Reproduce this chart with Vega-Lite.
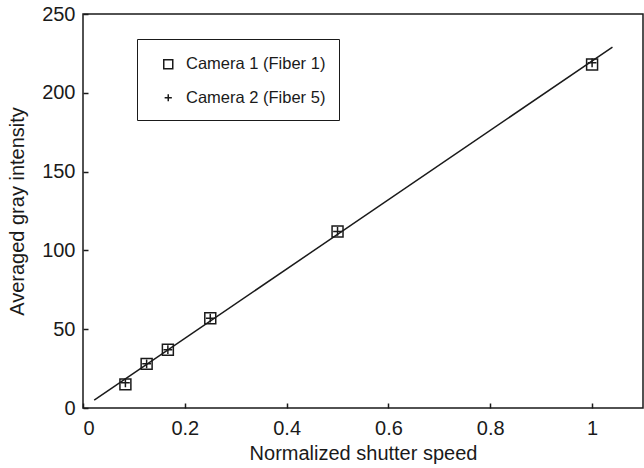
{
  "$schema": "https://vega.github.io/schema/vega-lite/v6.json",
  "width": 560,
  "height": 394,
  "autosize": "none",
  "padding": {"left": 83, "top": 14, "right": 1, "bottom": 60},
  "background": "white",
  "config": {
    "font": "Liberation Sans",
    "view": {"stroke": "#1a1a1a", "strokeWidth": 1.5},
    "axis": {
      "domain": false,
      "grid": false,
      "ticks": true,
      "tickColor": "#1a1a1a",
      "tickSize": -5,
      "tickWidth": 1.5,
      "labelFont": "Liberation Sans",
      "labelFontSize": 20,
      "labelColor": "#1a1a1a",
      "titleFont": "Liberation Sans",
      "titleFontSize": 20,
      "titleFontWeight": "normal",
      "titleColor": "#1a1a1a"
    }
  },
  "datasets": {
    "points": [
      {"speed": 0.0833, "intensity": 15, "camera": "Camera 1 (Fiber 1)"},
      {"speed": 0.125, "intensity": 28, "camera": "Camera 1 (Fiber 1)"},
      {"speed": 0.1667, "intensity": 37, "camera": "Camera 1 (Fiber 1)"},
      {"speed": 0.25, "intensity": 57, "camera": "Camera 1 (Fiber 1)"},
      {"speed": 0.5, "intensity": 112, "camera": "Camera 1 (Fiber 1)"},
      {"speed": 1.0, "intensity": 218, "camera": "Camera 1 (Fiber 1)"},
      {"speed": 0.0833, "intensity": 16, "camera": "Camera 2 (Fiber 5)"},
      {"speed": 0.125, "intensity": 28, "camera": "Camera 2 (Fiber 5)"},
      {"speed": 0.1667, "intensity": 37, "camera": "Camera 2 (Fiber 5)"},
      {"speed": 0.25, "intensity": 57, "camera": "Camera 2 (Fiber 5)"},
      {"speed": 0.5, "intensity": 112, "camera": "Camera 2 (Fiber 5)"},
      {"speed": 1.0, "intensity": 219, "camera": "Camera 2 (Fiber 5)"}
    ],
    "fit": [
      {"speed": 0.022, "intensity": 5},
      {"speed": 1.04, "intensity": 229}
    ]
  },
  "layer": [
    {
      "data": {"name": "fit"},
      "mark": {"type": "line", "color": "#1a1a1a", "strokeWidth": 1.5},
      "encoding": {
        "x": {"field": "speed", "type": "quantitative"},
        "y": {"field": "intensity", "type": "quantitative"}
      }
    },
    {
      "data": {"name": "points"},
      "mark": {"type": "point", "filled": false, "strokeWidth": 1.5, "opacity": 1, "size": 120},
      "encoding": {
        "x": {
          "field": "speed",
          "type": "quantitative",
          "scale": {"domain": [0, 1.1], "nice": false, "zero": false},
          "axis": {"values": [0, 0.2, 0.4, 0.6, 0.8, 1], "format": "~g", "title": "Normalized shutter speed", "labelPadding": 15, "titlePadding": 5}
        },
        "y": {
          "field": "intensity",
          "type": "quantitative",
          "scale": {"domain": [0, 250], "nice": false},
          "axis": {"values": [0, 50, 100, 150, 200, 250], "title": "Averaged gray intensity", "labelPadding": 13, "titlePadding": 14}
        },
        "shape": {
          "field": "camera",
          "type": "nominal",
          "scale": {"domain": ["Camera 1 (Fiber 1)", "Camera 2 (Fiber 5)"], "range": ["square", "M-0.8,0L0.8,0M0,-0.8L0,0.8"]},
          "legend": {
            "orient": "none",
            "legendX": 54,
            "legendY": 25,
            "title": " ",
            "titleFontSize": 1,
            "titlePadding": 3,
            "strokeColor": "#1a1a1a",
            "padding": 13,
            "symbolOffset": 10,
            "symbolSize": 81,
            "symbolStrokeColor": "#1a1a1a",
            "symbolStrokeWidth": 1.5,
            "symbolFillColor": "transparent",
            "labelFontSize": 16.5,
            "labelColor": "#1a1a1a",
            "labelOffset": 9.5,
            "rowPadding": 16.5,
            "labelLimit": 300,
            "encode": {"legend": {"update": {"strokeWidth": {"value": 1.5}}}}
          }
        },
        "color": {"value": "#1a1a1a"}
      }
    }
  ]
}
